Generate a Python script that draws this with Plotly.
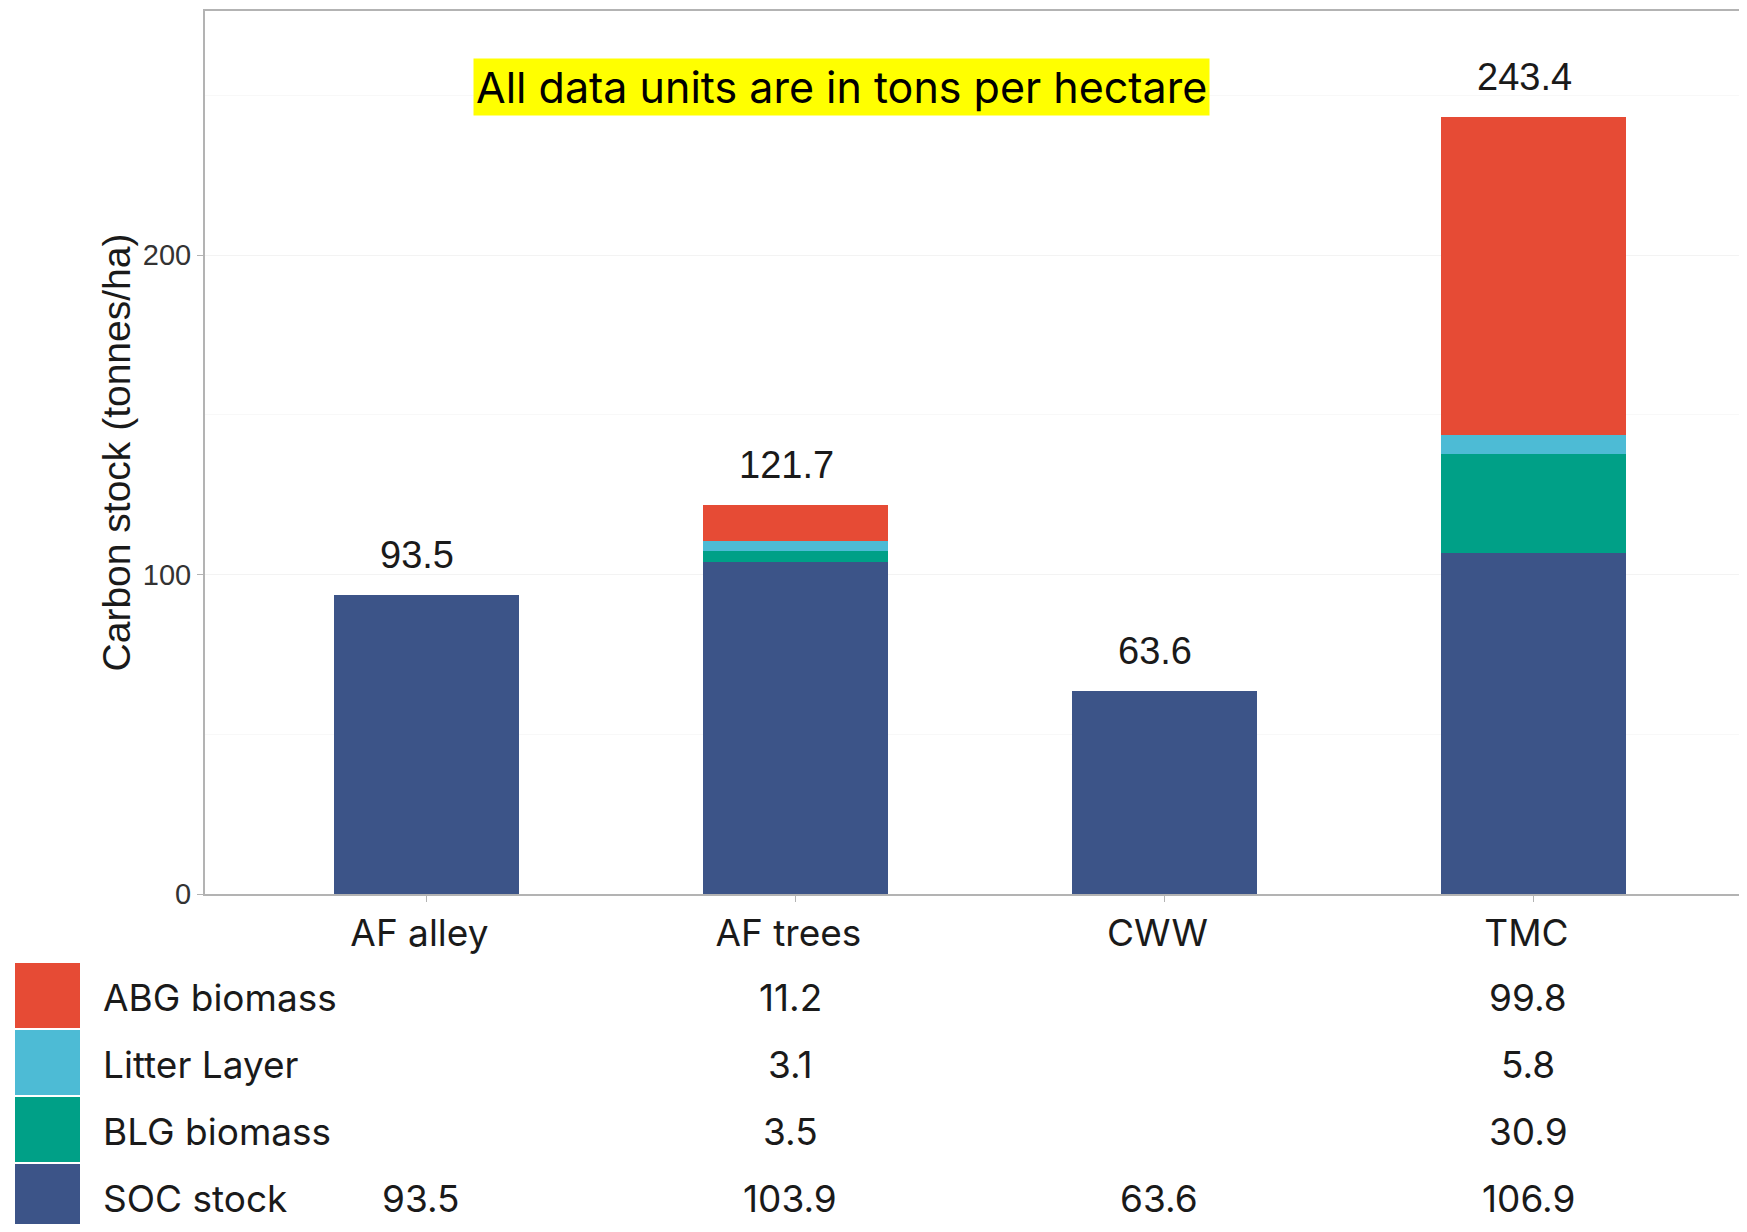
import plotly.graph_objects as go

categories = ["AF alley", "AF trees", "CWW", "TMC"]
series_names = ["SOC stock", "BLG biomass", "Litter Layer", "ABG biomass"]
soc_stock = [93.5, 103.9, 63.6, 106.9]
blg_biomass = [0, 3.5, 0, 30.9]
litter_layer = [0, 3.1, 0, 5.8]
abg_biomass = [0, 11.2, 0, 99.8]
totals = [93.5, 121.7, 63.6, 243.4]
colors = {"SOC stock": "#3C5488", "BLG biomass": "#00A087",
          "Litter Layer": "#4DBBD5", "ABG biomass": "#E64B35"}
values = {"SOC stock": soc_stock, "BLG biomass": blg_biomass,
          "Litter Layer": litter_layer, "ABG biomass": abg_biomass}
y_ticks = [0, 100, 200]
title_text = "All data units are in tons per hectare"

OFF = 8  # page body margin
W, H = 1747 - 2 * OFF, 1232 - 2 * OFF
L, R, T, B = 197, 0, 3, 330
PW, PH = W - L - R, H - T - B

def py(p):  # screen pixel y -> paper y
    return (H - B - (p - OFF)) / PH

def px(p):  # screen pixel x -> paper x
    return (p - OFF - L) / PW

UI_FONT = "Inter"
AX_FONT = "Liberation Sans, Arial"

fig = go.Figure()
for name in series_names:
    fig.add_trace(go.Bar(x=categories, y=values[name], name=name,
                         marker=dict(color=colors[name], line=dict(width=0)),
                         width=0.5, showlegend=False))

ann = []
for c, t in zip(categories, totals):
    ann.append(dict(x=c, y=t, xref="x", yref="y", text=f"{t:.1f}", showarrow=False,
                    xanchor="center", yanchor="bottom", yshift=17, xshift=-9,
                    font=dict(family=AX_FONT, size=38, color="#1a1a1a")))

ann.append(dict(x=px(841), y=py(87), xref="paper", yref="paper", text=title_text,
                showarrow=False, bgcolor="#FFFF00", borderpad=2,
                xanchor="center", yanchor="middle",
                font=dict(family=UI_FONT, size=43, color="#000000")))

# table rows (top to bottom)
table_rows = ["ABG biomass", "Litter Layer", "BLG biomass", "SOC stock"]
row_tops = [963, 1030, 1097, 1164]
row_bots = [1028, 1095, 1162, 1232]
row_mid = [998, 1064, 1131, 1198]
shapes = []
for name, t0, b0, ym in zip(table_rows, row_tops, row_bots, row_mid):
    shapes.append(dict(type="rect", xref="paper", yref="paper",
                       x0=px(15), x1=px(80), y0=py(b0), y1=py(t0),
                       fillcolor=colors[name], line=dict(width=0)))
    yc = py(ym)
    ann.append(dict(x=px(101), y=yc, xref="paper", yref="paper", text=name,
                    showarrow=False, xanchor="left", yanchor="middle",
                    font=dict(family=UI_FONT, size=37, color="#1a1a1a")))
    for c, v in zip(categories, values[name]):
        if v:
            ann.append(dict(x=c, y=yc, xref="x", yref="paper", text=f"{v:.1f}",
                            showarrow=False, xshift=-5, xanchor="center", yanchor="middle",
                            font=dict(family=UI_FONT, size=37, color="#1a1a1a")))

fig.update_layout(
    width=W, height=H, margin=dict(l=L, r=R, t=T, b=B, autoexpand=False),
    barmode="stack", bargap=0.5,
    plot_bgcolor="white", paper_bgcolor="white",
    annotations=ann, shapes=shapes,
    xaxis=dict(range=[-0.6, 3.557], showline=True, linecolor="#b3b3b3", linewidth=2,
               mirror=True, ticks="outside", ticklen=6, tickcolor="#b3b3b3",
               ticklabelshift=-7,
               showgrid=False, tickfont=dict(family=UI_FONT, size=37, color="#1a1a1a")),
    yaxis=dict(range=[0, 276.5], tickvals=y_ticks, showline=True, linecolor="#b3b3b3",
               linewidth=2, ticks="outside", ticklen=6, tickcolor="#b3b3b3",
               gridcolor="#f3f3f3", zeroline=False,
               minor=dict(dtick=50, showgrid=True, gridcolor="#f8f8f8"),
               tickfont=dict(family=AX_FONT, size=29, color="#333333"),
               title=dict(text="Carbon stock (tonnes/ha)", standoff=0,
                          font=dict(family=AX_FONT, size=39, color="#1a1a1a"))),
)
fig.write_html("out.html")
